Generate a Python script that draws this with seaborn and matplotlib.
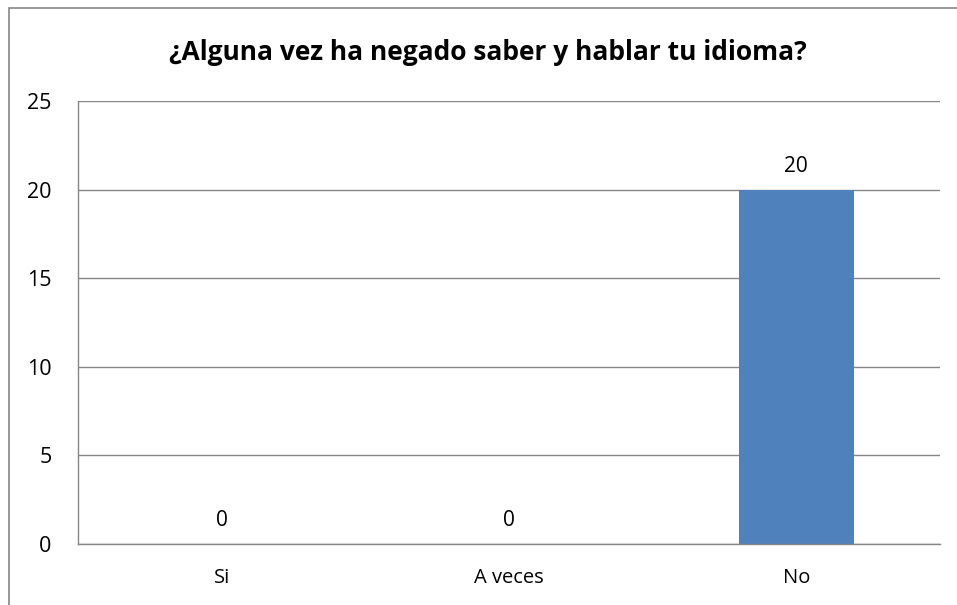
import matplotlib
matplotlib.use("Agg")
import matplotlib.pyplot as plt
from matplotlib.patches import Rectangle
import pandas as pd
import seaborn as sns

categorias = ["Si", "A veces", "No"]
valores = [0, 0, 20]
titulo = "¿Alguna vez ha negado saber y hablar tu idioma?"

sns.set_style("white")
plt.rcParams["font.family"] = ["Open Sans", "DejaVu Sans"]
plt.rcParams["text.color"] = "black"
plt.rcParams["xtick.color"] = "black"
plt.rcParams["ytick.color"] = "black"

df = pd.DataFrame({"respuesta": categorias, "n": valores})

fig = plt.figure(figsize=(9.57, 6.05), dpi=100)
ax = fig.add_axes([0.0815, 0.1008, 0.9007, 0.7322])

sns.barplot(data=df, x="respuesta", y="n", color="#4F81BD", width=0.4,
            saturation=1, linewidth=0, ax=ax, zorder=3)

ax.set_ylim(0, 25)
ax.set_yticks(range(0, 26, 5))
ax.yaxis.grid(True, color="#868686", linewidth=1, zorder=0)
ax.set_xlim(-0.5, 2.5)
for s in ["top", "right"]:
    ax.spines[s].set_visible(False)
for s in ["left", "bottom"]:
    ax.spines[s].set_color("#868686")
    ax.spines[s].set_linewidth(1)
    ax.spines[s].set_zorder(4)
ax.tick_params(axis="y", length=0, pad=19, labelsize=15.5)
ax.tick_params(axis="x", length=0, pad=17, labelsize=14.5)
ax.set_xlabel("")
ax.set_ylabel("")

for i, v in enumerate(valores):
    ax.annotate(str(v), (i, v), xytext=(0, 17), textcoords="offset points",
                ha="center", va="center", fontsize=15)

fig.text(488 / 957, 1 - 53 / 605, titulo, ha="center", va="center",
         fontsize=19, fontweight="bold")

# marco del gráfico
fig.patches.append(Rectangle((9 / 957, -0.2), 1.2, 1 - 8 / 605 + 0.2,
                             transform=fig.transFigure, fill=False,
                             edgecolor="#868686", linewidth=1.2))

fig.savefig("out.png", dpi=100)
